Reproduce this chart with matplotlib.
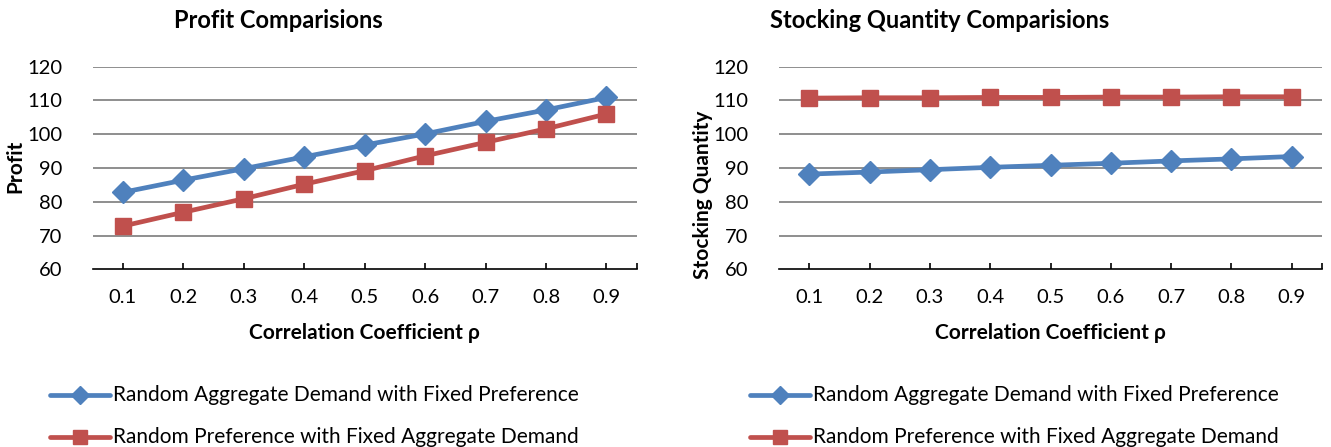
import matplotlib
matplotlib.use("Agg")
import matplotlib.pyplot as plt
from matplotlib.lines import Line2D

plt.rcParams['font.family'] = ['Lato', 'DejaVu Sans']

rho = ['0.1', '0.2', '0.3', '0.4', '0.5', '0.6', '0.7', '0.8', '0.9']

# profit
profit_agg = [82.8, 86.4, 89.8, 93.3, 96.8, 100.1, 103.8, 107.2, 110.9]
profit_pref = [72.8, 76.9, 80.9, 85.2, 89.2, 93.6, 97.6, 101.6, 106.0]

# stocking quantity
stock_agg = [88.2, 88.8, 89.5, 90.2, 90.8, 91.4, 92.1, 92.7, 93.4]
stock_pref = [110.7, 110.8, 110.8, 110.9, 110.9, 111.0, 111.0, 111.1, 111.1]

y_ticks = [60, 70, 80, 90, 100, 110, 120]

name_agg = 'Random Aggregate Demand with Fixed Preference'
name_pref = 'Random Preference with Fixed Aggregate Demand'

BLUE = '#4F81BD'
RED = '#C0504D'
GRID = '#868686'

W, H = 1331, 447
fig = plt.figure(figsize=(W / 100, H / 100), dpi=100)


def px(x, y):
    return x / W, 1 - y / H


def panel(rect, agg, pref):
    ax = fig.add_axes(rect)
    x = range(len(rho))
    ax.plot(x, agg, color=BLUE, lw=3.4, marker='D', ms=11, mec=BLUE,
            solid_joinstyle='round', zorder=3)
    ax.plot(x, pref, color=RED, lw=3.4, marker='s', ms=12, mec=RED,
            solid_joinstyle='round', zorder=3)
    ax.set_xlim(-0.5, len(rho) - 0.5)
    ax.set_ylim(60, 120)
    ax.set_yticks(y_ticks)
    ax.set_xticks(list(x))
    ax.set_xticklabels(rho)
    ax.set_xticks([len(rho) - 0.5], minor=True)
    for v in y_ticks[1:]:
        ax.axhline(v, color=GRID, lw=1.3, zorder=1)
    for s in ['top', 'right', 'left']:
        ax.spines[s].set_visible(False)
    ax.spines['bottom'].set_linewidth(1.2)
    ax.spines['bottom'].set_color('black')
    ax.tick_params(axis='y', length=0, pad=22, labelsize=14.5)
    ax.tick_params(axis='x', which='both', direction='in', length=4,
                   width=1.2, pad=14, labelsize=14.5)
    return ax


ax1 = panel([92.7 / W, 1 - 269.3 / H, 544 / W, 202.6 / H], profit_agg, profit_pref)
ax2 = panel([779.3 / W, 1 - 269.3 / H, 542.4 / W, 202.6 / H], stock_agg, stock_pref)

# titles and axis labels
fig.text(*px(278, 20), 'Profit Comparisions', ha='center', va='center',
         fontsize=17, fontweight='bold')
fig.text(*px(940, 20), 'Stocking Quantity Comparisions', ha='center', va='center',
         fontsize=17, fontweight='bold')
fig.text(*px(364.7, 333), 'Correlation Coefficient ρ', ha='center', va='center',
         fontsize=15, fontweight='bold')
fig.text(*px(1050.5, 333), 'Correlation Coefficient ρ', ha='center', va='center',
         fontsize=15, fontweight='bold')
fig.text(*px(15, 166), 'Profit', ha='center', va='center', rotation=90,
         fontsize=15, fontweight='bold')
fig.text(*px(703, 195), 'Stocking Quantity', ha='center', va='center', rotation=90,
         fontsize=15, fontweight='bold')

# legends under each panel
for x0 in (50, 750):
    for y0, name, color, mk, ms in ((395, name_agg, BLUE, 'D', 9),
                                    (437, name_pref, RED, 's', 10)):
        xa, ya = px(x0, y0)
        xb, _ = px(x0 + 60, y0)
        fig.add_artist(Line2D([xa, xb], [ya, ya], transform=fig.transFigure,
                              color=color, lw=3.4, solid_capstyle='round'))
        fig.add_artist(Line2D([(xa + xb) / 2], [ya], transform=fig.transFigure,
                              color=color, marker=mk, ms=ms, lw=0))
        fig.text(*px(x0 + 63, y0), name, ha='left', va='center', fontsize=15)

fig.savefig('out.png', dpi=100)
